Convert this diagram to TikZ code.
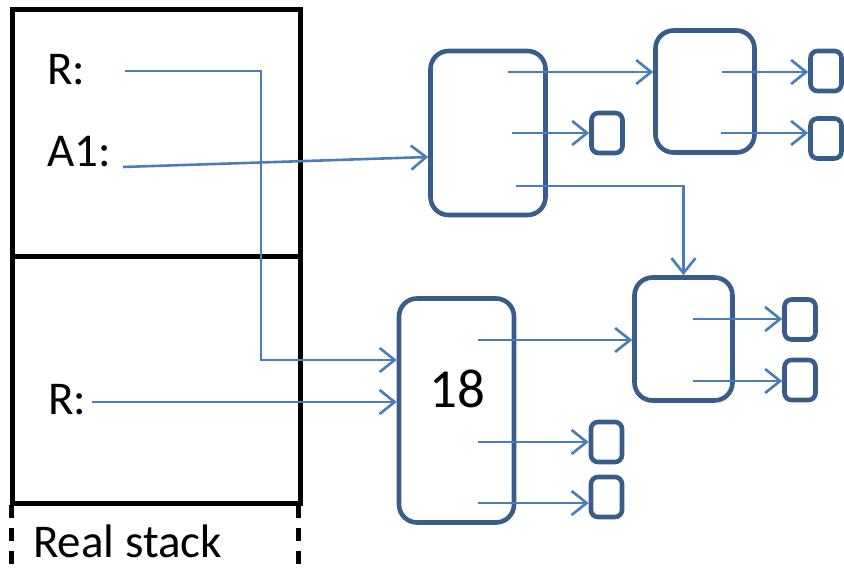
\documentclass[tikz,border=0pt]{standalone}
\usepackage{fontspec}
\setmainfont{Carlito}
\usetikzlibrary{arrows.meta}
\definecolor{boxblue}{HTML}{385D8A}
\definecolor{ptrblue}{HTML}{4A7EBB}
\tikzset{
  obj/.style={draw=boxblue, line width=4.6pt, rounded corners=18pt, inner sep=0pt},
  cell/.style={draw=boxblue, line width=4.6pt, rounded corners=7pt, inner sep=0pt,
    minimum width=31pt, minimum height=40pt},
  ptr/.style={draw=ptrblue, line width=2.6pt,
    -{Straight Barb[length=15pt,width=24pt]}},
  lbl/.style={anchor=base west, inner sep=0pt, font=\fontsize{47}{56}\selectfont},
  frame/.style={line width=5pt}
}
\begin{document}
\begin{tikzpicture}[x=1pt,y=-1pt]
  \useasboundingbox (0,0) rectangle (844,569);
  % real stack
  \draw[frame] (12,10) rectangle (300,503);
  \draw[frame] (12,257) -- (300,257);
  \draw[frame, dash pattern=on 13pt off 10pt]
    (11,505) -- (11,575)
    (298,505) -- (298,575);
  \node[lbl] (r1) at (47,85) {R:};
  \node[lbl] (a1) at (47,167) {A1:};
  \node[lbl] (r2) at (48,415) {R:};
  \node[lbl] (stack) at (33,557) {Real stack};
  % heap
  \node[obj, minimum width=115pt, minimum height=164pt] (A) at (488,133) {};
  \node[obj, minimum width=99pt, minimum height=122pt] (B) at (705,91.5) {};
  \node[obj, minimum width=98pt, minimum height=123pt] (C) at (683.5,339) {};
  \node[obj, minimum width=115pt, minimum height=224pt] (D) at (456.5,410.5) {};
  \node[anchor=base, inner sep=0pt, font=\fontsize{55}{66}\selectfont] (val) at (457,407) {18};
  \node[cell] (a0) at (607,133) {};
  \node[cell] (b0) at (826,71) {};
  \node[cell] (b1) at (826,138.5) {};
  \node[cell] (c0) at (800,319.5) {};
  \node[cell] (c1) at (800,380) {};
  \node[cell] (d0) at (606.5,442) {};
  \node[cell] (d1) at (606.5,497) {};
  % pointer sources
  \coordinate (pr1) at (125,71);
  \coordinate (pa1) at (123,167);
  \coordinate (pr2) at (92,402);
  \coordinate (bend) at (261,360);
  \coordinate (pA0) at (508,72);
  \coordinate (pA1) at (512,133);
  \coordinate (pA2) at (516,186);
  \coordinate (pB0) at (722,72);
  \coordinate (pB1) at (721,133);
  \coordinate (pC0) at (693,319);
  \coordinate (pC1) at (693,381);
  \coordinate (pD0) at (478,340);
  \coordinate (pD1) at (478,442);
  \coordinate (pD2) at (478,503);
  \begin{scope}[ptr]
    \draw (pr1) -| (bend) -- (bend -| D.west);
    \draw (pa1) -- (A.west |- 0,157);
    \draw (pr2) -- (pr2 -| D.west);
    \draw (pA0) -- (pA0 -| B.west);
    \draw (pA1) -- (pA1 -| a0.west);
    \draw (pA2) -| (C.north);
    \draw (pB0) -- (pB0 -| b0.west);
    \draw (pB1) -- (pB1 -| b1.west);
    \draw (pC0) -- (pC0 -| c0.west);
    \draw (pC1) -- (pC1 -| c1.west);
    \draw (pD0) -- (pD0 -| C.west);
    \draw (pD1) -- (pD1 -| d0.west);
    \draw (pD2) -- (pD2 -| d1.west);
  \end{scope}
\end{tikzpicture}
\end{document}
